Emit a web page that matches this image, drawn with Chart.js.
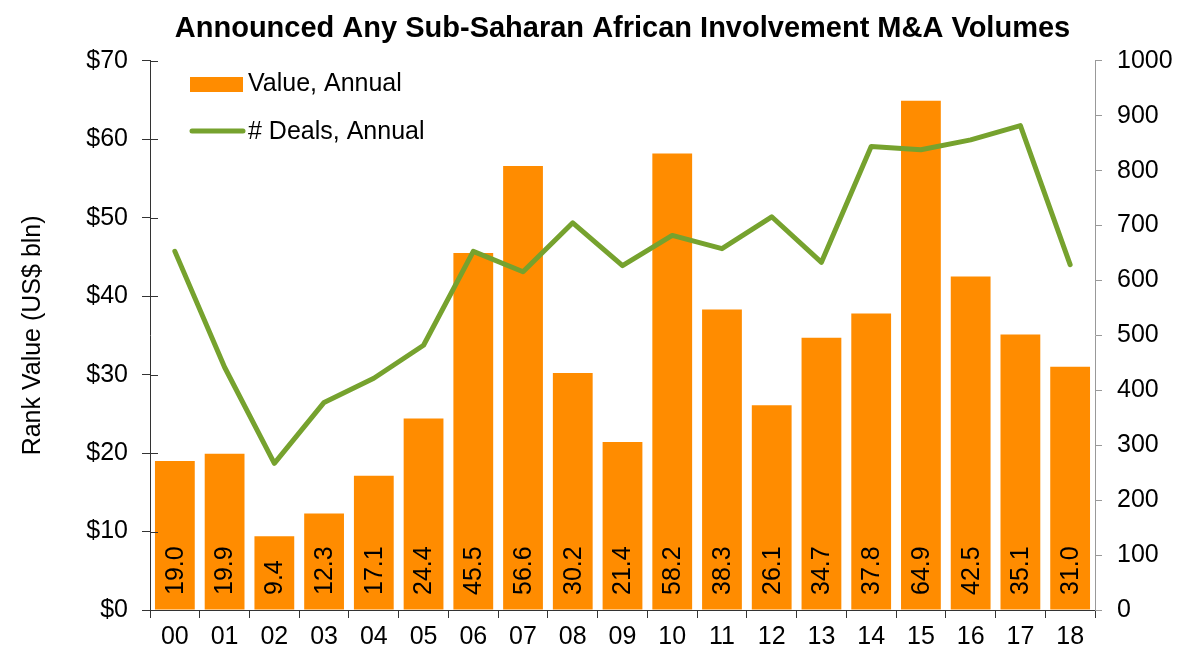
<!DOCTYPE html>
<html>
<head>
<meta charset="utf-8">
<script src="https://cdn.jsdelivr.net/npm/chart.js@4/dist/chart.umd.min.js"></script>
<style>
  html, body { margin: 0; padding: 0; background: #fff; }
  #wrap { width: 1187px; height: 663px; position: relative; }
</style>
</head>
<body>
<div id="wrap"><canvas id="maChart" width="1187" height="663"></canvas></div>
<script>
// data
const years = ['00','01','02','03','04','05','06','07','08','09','10','11','12','13','14','15','16','17','18'];
const valueAnnual = [19.0, 19.9, 9.4, 12.3, 17.1, 24.4, 45.5, 56.6, 30.2, 21.4, 58.2, 38.3, 26.1, 34.7, 37.8, 64.9, 42.5, 35.1, 31.0];
const dealsAnnual = [653, 442, 267, 378, 422, 482, 653, 616, 705, 627, 682, 658, 716, 633, 844, 838, 856, 882, 629];
const valueTicks = [0, 10, 20, 30, 40, 50, 60, 70];
const dealTicks = [0, 100, 200, 300, 400, 500, 600, 700, 800, 900, 1000];

const ORANGE = '#FF8C00';
const GREEN = '#76A22E';
const FONT = "'Liberation Sans', Arial, sans-serif";

// value labels, rotated, sitting at the foot of each bar
const barLabels = {
    id: 'barLabels',
    afterDatasetsDraw(chart) {
        const ctx = chart.ctx;
        const meta = chart.getDatasetMeta(0);
        const base = chart.scales.y.getPixelForValue(0);
        ctx.save();
        ctx.fillStyle = '#000';
        ctx.font = '25px ' + FONT;
        ctx.textAlign = 'left';
        ctx.textBaseline = 'middle';
        meta.data.forEach((bar, i) => {
            ctx.save();
            ctx.translate(bar.x + 1, base - 15);
            ctx.rotate(-Math.PI / 2);
            ctx.fillText(valueAnnual[i].toFixed(1), 0, 0);
            ctx.restore();
        });
        ctx.restore();
    }
};

// left axis ticks cross the axis line, draw the inner half
const innerTicks = {
    id: 'innerTicks',
    afterDraw(chart) {
        const ctx = chart.ctx;
        const y = chart.scales.y;
        ctx.save();
        ctx.strokeStyle = '#333';
        ctx.lineWidth = 1;
        y.ticks.forEach(t => {
            const py = Math.round(y.getPixelForValue(t.value)) + 0.5;
            ctx.beginPath();
            ctx.moveTo(y.right, py);
            ctx.lineTo(y.right + 8, py);
            ctx.stroke();
        });
        ctx.restore();
    }
};

// legend placed inside the plot, top left
const innerLegend = {
    id: 'innerLegend',
    afterDraw(chart) {
        const ctx = chart.ctx;
        const x0 = chart.chartArea.left + 40;
        ctx.save();
        ctx.fillStyle = ORANGE;
        ctx.fillRect(x0, 77, 53, 15);
        ctx.strokeStyle = GREEN;
        ctx.lineWidth = 5;
        ctx.lineCap = 'round';
        ctx.beginPath();
        ctx.moveTo(x0 + 2, 131);
        ctx.lineTo(x0 + 53, 131);
        ctx.stroke();
        ctx.fillStyle = '#000';
        ctx.font = '25px ' + FONT;
        ctx.textBaseline = 'middle';
        ctx.fillText('Value, Annual', x0 + 58, 84);
        ctx.fillText('# Deals, Annual', x0 + 58, 132);
        ctx.restore();
    }
};

const ctx = document.getElementById('maChart').getContext('2d');
new Chart(ctx, {
    data: {
        labels: years,
        datasets: [
            {
                type: 'line',
                label: '# Deals, Annual',
                data: dealsAnnual,
                yAxisID: 'y1',
                borderColor: GREEN,
                borderWidth: 5,
                pointRadius: 0,
                tension: 0,
                borderCapStyle: 'round',
                borderJoinStyle: 'round',
                order: 0
            },
            {
                type: 'bar',
                label: 'Value, Annual',
                data: valueAnnual,
                yAxisID: 'y',
                backgroundColor: ORANGE,
                borderWidth: 0,
                categoryPercentage: 0.8,
                barPercentage: 1.0,
                order: 1
            }
        ]
    },
    options: {
        responsive: false,
        animation: false,
        layout: { padding: { left: 18, right: 0, top: 0, bottom: 0 } },
        plugins: {
            legend: { display: false },
            tooltip: { enabled: false },
            title: {
                display: true,
                fullSize: false,
                text: 'Announced Any Sub-Saharan African Involvement M&A Volumes',
                color: '#000',
                font: { family: FONT, size: 29, weight: 'bold', lineHeight: 1.2 },
                padding: { top: 12, bottom: 14 }
            }
        },
        scales: {
            x: {
                offset: true,
                grid: { offset: true, drawOnChartArea: false, drawTicks: true, tickLength: 8, color: '#333' },
                border: { color: '#333', width: 1 },
                ticks: { color: '#000', font: { family: FONT, size: 25 }, padding: 4, maxRotation: 0 },
                afterFit: s => { s.height = 53; }
            },
            y: {
                position: 'left',
                min: 0,
                max: 70,
                afterBuildTicks: s => { s.ticks = valueTicks.map(v => ({ value: v })); },
                grid: { drawOnChartArea: false, drawTicks: true, tickLength: 8, color: '#333' },
                border: { color: '#333', width: 1 },
                ticks: { color: '#000', font: { family: FONT, size: 25 }, padding: 14, callback: v => '$' + v },
                title: {
                    display: true,
                    text: 'Rank Value (US$ bln)',
                    color: '#000',
                    font: { family: FONT, size: 25 },
                    padding: { top: 0, bottom: 10 }
                },
                afterFit: s => { s.width = 132; }
            },
            y1: {
                position: 'right',
                min: 0,
                max: 1000,
                afterBuildTicks: s => { s.ticks = dealTicks.map(v => ({ value: v })); },
                grid: { drawOnChartArea: false, drawTicks: true, tickLength: 7, color: '#999' },
                border: { color: '#999', width: 1 },
                ticks: { color: '#000', font: { family: FONT, size: 25 }, padding: 15, callback: v => String(v) },
                afterFit: s => { s.width = 92; }
            }
        }
    },
    plugins: [barLabels, innerTicks, innerLegend]
});
</script>
</body>
</html>
